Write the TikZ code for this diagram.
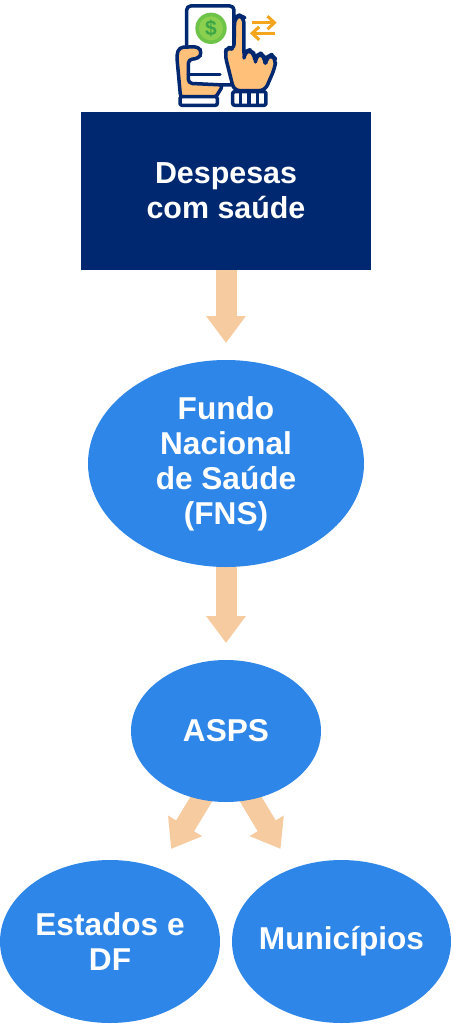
\documentclass[tikz,border=0pt]{standalone}
\usepackage{fontspec}
\setmainfont{Liberation Sans}
\usepackage{xcolor}
\definecolor{BoxColor}{RGB}{0,40,112}
\definecolor{OvalColor}{RGB}{46,134,232}
\definecolor{ArrowColor}{RGB}{246,203,160}
\definecolor{SkinColor}{RGB}{255,192,122}
\definecolor{CoinColor}{RGB}{110,196,72}
\definecolor{CoinInner}{RGB}{140,208,80}
\definecolor{DollarColor}{RGB}{60,165,70}
\definecolor{SwapColor}{RGB}{243,165,30}
\usetikzlibrary{positioning, shapes.geometric, arrows.meta, backgrounds}

\begin{document}
\begin{tikzpicture}[
    x=1pt, y=-1pt,
    boxnode/.style={rectangle, fill=BoxColor, text=white, minimum width=290pt, minimum height=158pt, inner sep=0pt, outer sep=0pt, align=center, font=\fontsize{30.4}{35}\selectfont\bfseries},
    ovalnode/.style={ellipse, fill=OvalColor, text=white, inner sep=-20pt, outer sep=0pt, align=center, font=\fontsize{31.6}{35}\selectfont\bfseries},
    arrow/.style={-{Triangle[length=27pt, width=38pt]}, line width=21pt, draw=ArrowColor},
    iconline/.style={draw=BoxColor, line width=3.5pt, line join=round, line cap=round},
    swap/.style={-{Straight Barb[length=7pt, width=13pt]}, draw=SwapColor, line width=3pt},
]
\useasboundingbox (0,0) rectangle (452,1024);

% Box
\node[boxnode] (despesas) at (226,191) {Despesas\\com saúde};

% Fundo
\node[ovalnode, minimum width=276pt, minimum height=207pt, below=90pt of despesas] (fns) {Fundo\\Nacional\\de Saúde\\(FNS)};

% ASPS
\node[ovalnode, minimum width=190pt, minimum height=142pt, below=93pt of fns] (asps) {ASPS};

% Bottom row
\node[ovalnode, minimum width=220pt, minimum height=163pt, below=58pt of asps, xshift=-116pt] (estados) {Estados e\\DF};
\node[ovalnode, minimum width=219pt, minimum height=163pt, right=12pt of estados] (municipios) {Municípios};

% Arrows
\begin{scope}[on background layer]
\draw[arrow, shorten >=17pt] (despesas.south) -- (fns.north);
\draw[arrow, shorten >=17pt] (fns.south) -- (asps.north);
\draw[arrow, shorten >=23pt, shorten <=-8pt] (asps.-110) -- (estados.56);
\draw[arrow, shorten >=23pt, shorten <=-8pt] (asps.-70) -- (municipios.124);
\end{scope}

% Icon
\begin{scope}[shift={(160,0)}, x=0.3333pt, y=-0.3333pt]
% phone
\filldraw[iconline, fill=white, rounded corners=4pt] (80,18) rectangle (222,255);
% coin
\fill[CoinColor] (153,85) circle (47);
\fill[CoinInner] (153,85) circle (36);
\node[text=DollarColor, font=\fontsize{21}{21}\selectfont\bfseries] (dollar) at (153,85) {\$};
% swap arrows
\draw[swap] (275,68) -- (350,68);
\draw[swap] (345,100) -- (270,100);
% left hand
\filldraw[iconline, fill=SkinColor, rounded corners=4pt] (62,295) -- (50,165) -- (58,142) -- (115,140) -- (126,158) -- (115,176) -- (85,178) -- (85,250) -- (190,255) -- (165,295) -- cycle;
\draw[iconline] (85,224) -- (180,224);
\filldraw[iconline, fill=white, rounded corners=2pt] (60,290) rectangle (172,316);
% right hand
\filldraw[iconline, fill=SkinColor, rounded corners=6pt] (222,272) -- (195,165) -- (200,140) -- (222,150) -- (224,52) -- (238,46) -- (252,52) -- (252,175) -- (254,156) -- (268,150) -- (282,160) -- (286,190) -- (288,168) -- (302,160) -- (314,172) -- (316,195) -- (320,172) -- (334,164) -- (348,178) -- (344,205) -- (315,272) -- cycle;
\filldraw[iconline, fill=white, rounded corners=2pt] (218,275) rectangle (318,316);
\foreach \px in {242,267,292}
    \draw[iconline] (\px,277) -- (\px,314);
\end{scope}

\end{tikzpicture}
\end{document}
